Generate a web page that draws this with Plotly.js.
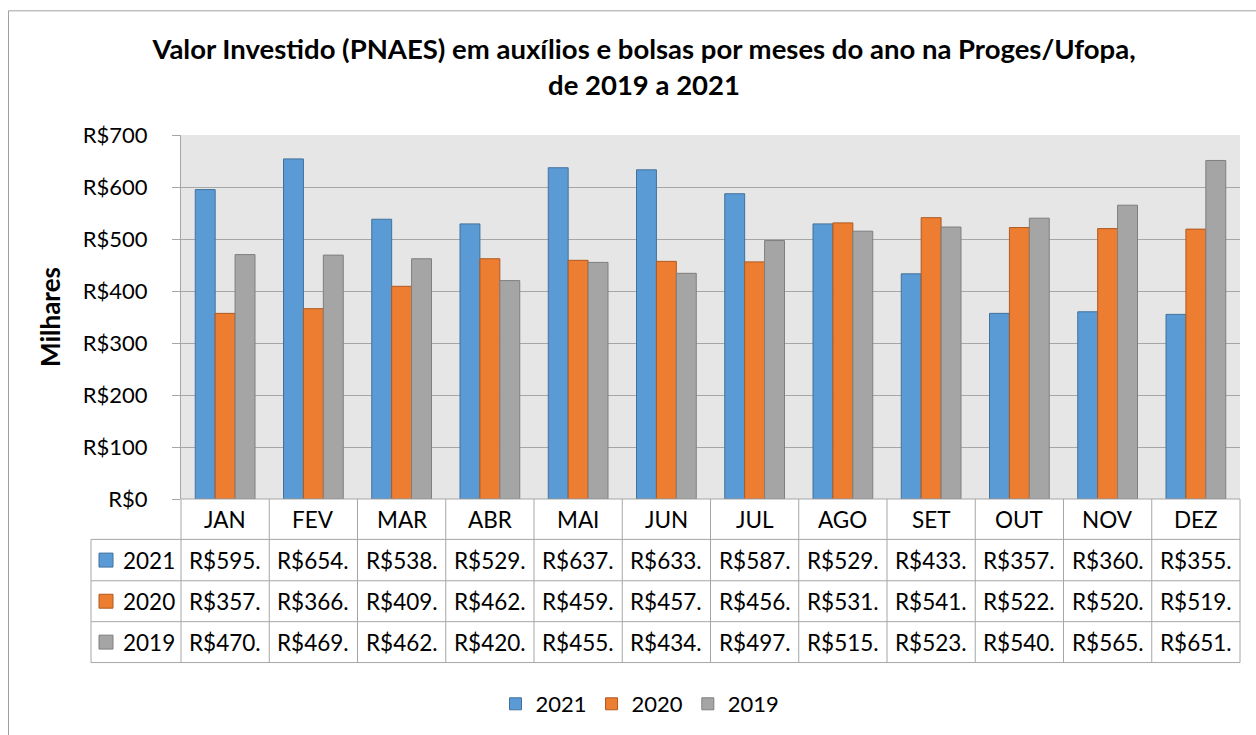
<!DOCTYPE html>
<html>
<head>
<meta charset="utf-8">
<script src="https://cdn.plot.ly/plotly-3.0.1.min.js"></script>
<style>html,body{margin:0;padding:0;background:#fff;}#chart{width:1256px;height:735px;}</style>
</head>
<body>
<div id="chart"></div>
<script>
// ---- data (R$, milhares) ----
const months = ['JAN','FEV','MAR','ABR','MAI','JUN','JUL','AGO','SET','OUT','NOV','DEZ'];
const values2021 = [595,654,538,529,637,633,587,529,433,357,360,355];
const values2020 = [357,366,409,462,459,457,456,531,541,522,520,519];
const values2019 = [470,469,462,420,455,434,497,515,523,540,565,651];
const seriesNames = ['2021','2020','2019'];
const yTicks = [0,100,200,300,400,500,600,700];

// ---- styling ----
const fillColors = ['#5B9BD5','#ED7D31','#A5A5A5'];
const lineColors = ['#41719C','#AE5A21','#7F7F7F'];
const FONT = 'Lato, "Open Sans", sans-serif';
const W = 1256, H = 735;
const M = {l:181, r:16, t:135, b:235};
const PW = W - M.l - M.r, PH = H - M.t - M.b;
const xp = px => (px - M.l) / PW;          // pixel -> paper x
const yp = py => (H - M.b - py) / PH;       // pixel -> paper y
const gridCol = '#A6A6A6';

const allSeries = [values2021, values2020, values2019];
const traces = allSeries.map((vals, k) => ({
  type: 'bar', name: seriesNames[k], x: months, y: vals,
  marker: {color: fillColors[k], line: {color: lineColors[k], width: 1}},
  hoverinfo: 'x+y+name'
}));

// ---- data table under the axis ----
const nCat = months.length;
const catEdge = i => i / nCat;              // paper x of category boundary
const rowLines = [500, 540.5, 582, 623, 664].map(yp);
const leftX = xp(91);
const shapes = [];
const annotations = [];
const lineStyle = {color: gridCol, width: 1};
shapes.push({type:'line', xref:'paper', yref:'paper', x0:0, x1:1, y0:rowLines[0], y1:rowLines[0], line:lineStyle});
for (let r = 1; r < rowLines.length; r++) {
  shapes.push({type:'line', xref:'paper', yref:'paper', x0:leftX, x1:1, y0:rowLines[r], y1:rowLines[r], line:lineStyle});
}
for (let i = 0; i <= nCat; i++) {
  shapes.push({type:'line', xref:'paper', yref:'paper', x0:catEdge(i), x1:catEdge(i), y0:0, y1:rowLines[4], line:lineStyle});
}
shapes.push({type:'line', xref:'paper', yref:'paper', x0:leftX, x1:leftX, y0:rowLines[1], y1:rowLines[4], line:lineStyle});
// outer chart border
shapes.push({type:'rect', xref:'paper', yref:'paper', x0:xp(8.5), x1:xp(1262), y0:yp(10.5), y1:yp(742), line:{color:'#A0A0A0', width:1}, fillcolor:'rgba(0,0,0,0)'});

const cellFont = {family: FONT, size: 22.5, color: '#000'};
months.forEach((m, i) => {
  const cx = (catEdge(i) + catEdge(i+1)) / 2;
  annotations.push({xref:'paper', yref:'paper', x:cx, y:(rowLines[0]+rowLines[1])/2, text:m, showarrow:false, font:cellFont, xanchor:'center', yanchor:'middle'});
  allSeries.forEach((vals, k) => {
    annotations.push({xref:'paper', yref:'paper', x:cx, y:(rowLines[k+1]+rowLines[k+2])/2,
      text:'R$' + Math.floor(vals[i]) + '.', showarrow:false, font:cellFont, xanchor:'center', yanchor:'middle'});
  });
});
seriesNames.forEach((nm, k) => {
  const cy = (rowLines[k+1]+rowLines[k+2])/2;
  const half = 7 / PH;
  shapes.push({type:'rect', xref:'paper', yref:'paper', x0:xp(99), x1:xp(113), y0:cy-half, y1:cy+half,
    fillcolor:fillColors[k], line:{color:lineColors[k], width:1}});
  annotations.push({xref:'paper', yref:'paper', x:xp(121), y:cy, text:nm, showarrow:false, font:cellFont, xanchor:'left', yanchor:'middle'});
});

const layout = {
  width: W, height: H,
  margin: M,
  paper_bgcolor: '#fff', plot_bgcolor: '#E7E6E6',
  font: {family: FONT, size: 22, color: '#000'},
  title: {text: 'Valor Investido (PNAES) em auxílios e bolsas por meses do ano na Proges/Ufopa,<br>de 2019 a 2021',
    font: {family: FONT, size: 27.5, color: '#000', weight: 'bold'},
    x: 644/W, xanchor: 'center', xref: 'container', y: 1 - 59/H, yanchor: 'middle', yref: 'container'},
  barmode: 'group', bargap: 0.323, bargroupgap: 0,
  xaxis: {range: [-0.5, nCat - 0.5], showticklabels: false, ticks: '', showgrid: false, zeroline: false, showline: false, fixedrange: true},
  yaxis: {range: [0, 700], tickvals: yTicks, ticktext: yTicks.map(v => 'R$' + v),
    showgrid: true, gridcolor: gridCol, gridwidth: 1, zeroline: false,
    showline: true, linecolor: gridCol, linewidth: 1,
    ticks: 'outside', ticklen: 8, tickcolor: gridCol, ticklabelstandoff: 20,
    tickfont: {family: FONT, size: 22, color: '#000'},
    title: {text: 'Milhares', font: {family: FONT, size: 26, color: '#000', weight: 'bold'}, standoff: 14},
    automargin: false, fixedrange: true},
  showlegend: true,
  legend: {orientation: 'h', x: xp(640), xanchor: 'center', y: yp(704), yanchor: 'middle',
    font: {family: FONT, size: 22, color: '#000'}, traceorder: 'normal', bgcolor: 'rgba(0,0,0,0)'},
  shapes: shapes,
  annotations: annotations
};

Plotly.newPlot('chart', traces, layout, {displayModeBar: false, staticPlot: true});
</script>
</body>
</html>
